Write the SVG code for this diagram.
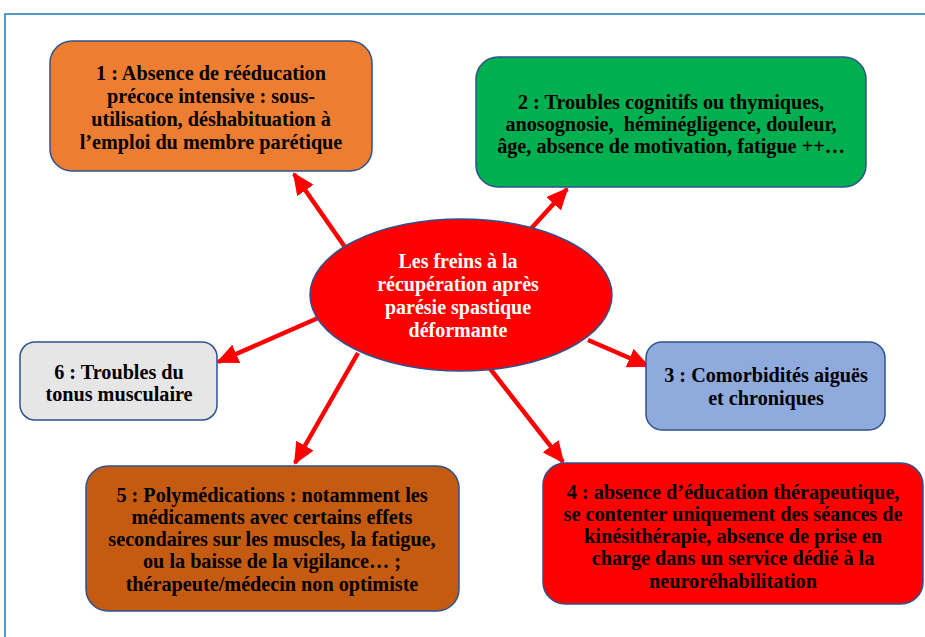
<svg xmlns="http://www.w3.org/2000/svg" width="925" height="637" viewBox="0 0 925 637">
<defs>
<style>
.box{stroke:#2F528F;stroke-width:1.5}
.t{font-family:"Liberation Serif","Times New Roman",serif;font-weight:bold;font-size:20.2px;text-anchor:middle;fill:#000;white-space:pre}
.w{fill:#fff;font-size:20px}
.c{stroke:#FF0000;stroke-width:4.5;fill:none}
</style>
<marker id="ah" markerUnits="userSpaceOnUse" markerWidth="22" markerHeight="20" viewBox="0 0 22 20" refX="20" refY="10" orient="auto">
<path d="M0,0 L22,10 L0,20 Z" fill="#FF0000"/>
</marker>
</defs>
<rect width="925" height="637" fill="#fff"/>
<path d="M5,637 V14 H925" fill="none" stroke="#1F7BB5" stroke-width="1.5"/>
<g id="connectors">
<line class="c" x1="347" y1="250" x2="294" y2="174" marker-end="url(#ah)"/>
<line class="c" x1="528" y1="232" x2="567" y2="189" marker-end="url(#ah)"/>
<line class="c" x1="588" y1="340" x2="648" y2="366" marker-end="url(#ah)"/>
<line class="c" x1="488" y1="366" x2="563" y2="462" marker-end="url(#ah)"/>
<line class="c" x1="358" y1="353" x2="295" y2="463" marker-end="url(#ah)"/>
<line class="c" x1="318" y1="318" x2="218" y2="362" marker-end="url(#ah)"/>
</g>
<g id="center">
<ellipse class="box" cx="461" cy="295" rx="151" ry="76" fill="#FF0000"/>
<text class="t w"><tspan x="458" y="268">Les freins à la</tspan><tspan x="458" y="291">récupération après</tspan><tspan x="458" y="314">parésie spastique</tspan><tspan x="458" y="337">déformante</tspan></text>
</g>
<g id="node1">
<rect class="box" x="50" y="41" width="322" height="130" rx="22" fill="#ED7D31"/>
<text class="t"><tspan x="211" y="80">1 : Absence de rééducation</tspan><tspan x="211" y="103">précoce intensive : sous-</tspan><tspan x="211" y="126">utilisation, déshabituation à</tspan><tspan x="211" y="149">l’emploi du membre parétique</tspan></text>
</g>
<g id="node2">
<rect class="box" x="476" y="57" width="390" height="130" rx="22" fill="#00B050"/>
<text class="t"><tspan x="671" y="109">2 : Troubles cognitifs ou thymiques,</tspan><tspan x="671" y="131">anosognosie,  héminégligence, douleur,</tspan><tspan x="671" y="153">âge, absence de motivation, fatigue ++…</tspan></text>
</g>
<g id="node3">
<rect class="box" x="646" y="342" width="239" height="88" rx="16" fill="#8FAADC"/>
<text class="t"><tspan x="766" y="382">3 : Comorbidités aiguës</tspan><tspan x="766" y="405">et chroniques</tspan></text>
</g>
<g id="node4">
<rect class="box" x="543" y="463" width="380" height="141" rx="22" fill="#FF0000"/>
<text class="t"><tspan x="733" y="499">4 : absence d’éducation thérapeutique,</tspan><tspan x="733" y="521">se contenter uniquement des séances de</tspan><tspan x="733" y="543">kinésithérapie, absence de prise en</tspan><tspan x="733" y="565">charge dans un service dédié à la</tspan><tspan x="733" y="588">neuroréhabilitation</tspan></text>
</g>
<g id="node5">
<rect class="box" x="86" y="466" width="373" height="145" rx="22" fill="#C55A11"/>
<text class="t"><tspan x="272" y="502">5 : Polymédications : notamment les</tspan><tspan x="272" y="524">médicaments avec certains effets</tspan><tspan x="272" y="546">secondaires sur les muscles, la fatigue,</tspan><tspan x="272" y="568">ou la baisse de la vigilance… ;</tspan><tspan x="272" y="591">thérapeute/médecin non optimiste</tspan></text>
</g>
<g id="node6">
<rect class="box" x="20" y="342" width="197" height="78" rx="15" fill="#E7E6E6"/>
<text class="t"><tspan x="119" y="379">6 : Troubles du</tspan><tspan x="119" y="401">tonus musculaire</tspan></text>
</g>
</svg>
